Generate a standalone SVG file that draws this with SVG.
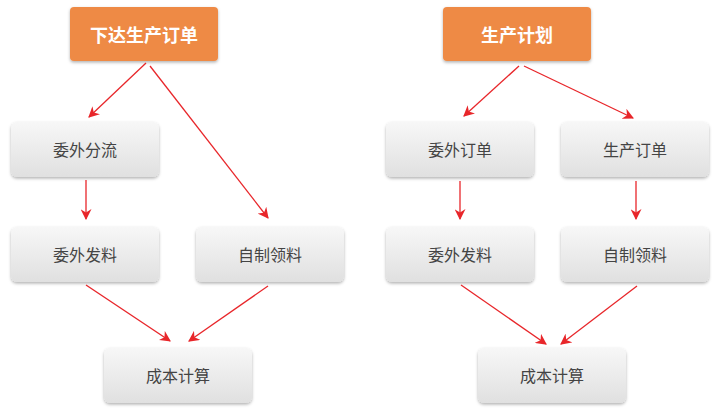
<svg xmlns="http://www.w3.org/2000/svg" width="722" height="419" viewBox="0 0 722 419">
<style>
.g rect{fill:url(#gr);filter:url(#sh)}
.o rect{fill:#ee8a45;filter:url(#sh)}
text{font-family:"Noto Sans CJK SC",sans-serif;text-anchor:middle;dominant-baseline:central}
.g text{font-size:16px;fill:#444}
.o text{font-size:18px;fill:#fff;font-weight:bold}
#c line{stroke:#e8262a;stroke-width:1.3;marker-end:url(#ar)}
</style>
<defs>
<linearGradient id="gr" x1="0" y1="0" x2="0" y2="1"><stop offset="0" stop-color="#f7f7f7"/><stop offset="1" stop-color="#e0e0e0"/></linearGradient>
<filter id="sh" x="-10%" y="-10%" width="120%" height="130%"><feDropShadow dx="0" dy="1.5" stdDeviation="1.5" flood-color="#000" flood-opacity="0.3"/></filter>
<marker id="ar" viewBox="0 0 10 10" refX="9" refY="5" markerWidth="11" markerHeight="11" orient="auto" markerUnits="userSpaceOnUse"><path d="M0,0L10,5L0,10L3,5Z" fill="#e8262a"/></marker>
</defs>
<rect width="722" height="419" fill="#fff"/>
<g id="n1" class="o"><rect x="70" y="7" width="148" height="54" rx="4"/><text x="144" y="34">下达生产订单</text></g>
<g id="n2" class="g"><rect x="11" y="122" width="148" height="55" rx="6"/><text x="85" y="149">委外分流</text></g>
<g id="n3" class="g"><rect x="11" y="227" width="148" height="55" rx="6"/><text x="85" y="254">委外发料</text></g>
<g id="n4" class="g"><rect x="196" y="227" width="148" height="55" rx="6"/><text x="270" y="254">自制领料</text></g>
<g id="n5" class="g"><rect x="104" y="348" width="148" height="55" rx="6"/><text x="178" y="375">成本计算</text></g>
<g id="m1" class="o"><rect x="443" y="7" width="148" height="54" rx="4"/><text x="517" y="34">生产计划</text></g>
<g id="m2" class="g"><rect x="386" y="122" width="148" height="55" rx="6"/><text x="460" y="149">委外订单</text></g>
<g id="m3" class="g"><rect x="561" y="122" width="148" height="55" rx="6"/><text x="635" y="149">生产订单</text></g>
<g id="m4" class="g"><rect x="386" y="227" width="148" height="55" rx="6"/><text x="460" y="254">委外发料</text></g>
<g id="m5" class="g"><rect x="561" y="227" width="148" height="55" rx="6"/><text x="635" y="254">自制领料</text></g>
<g id="m6" class="g"><rect x="478" y="348" width="148" height="55" rx="6"/><text x="552" y="375">成本计算</text></g>
<g id="c">
<line x1="146" y1="63" x2="89" y2="117"/>
<line x1="150" y1="66" x2="268" y2="218"/>
<line x1="86" y1="180" x2="86" y2="219"/>
<line x1="86" y1="285" x2="170" y2="341"/>
<line x1="268" y1="286" x2="189" y2="341"/>
<line x1="519" y1="66" x2="464" y2="116"/>
<line x1="524" y1="66" x2="633" y2="118"/>
<line x1="460" y1="181" x2="460" y2="219"/>
<line x1="636" y1="181" x2="636" y2="219"/>
<line x1="461" y1="285" x2="546" y2="344"/>
<line x1="637" y1="286" x2="561" y2="344"/>
</g>
</svg>
